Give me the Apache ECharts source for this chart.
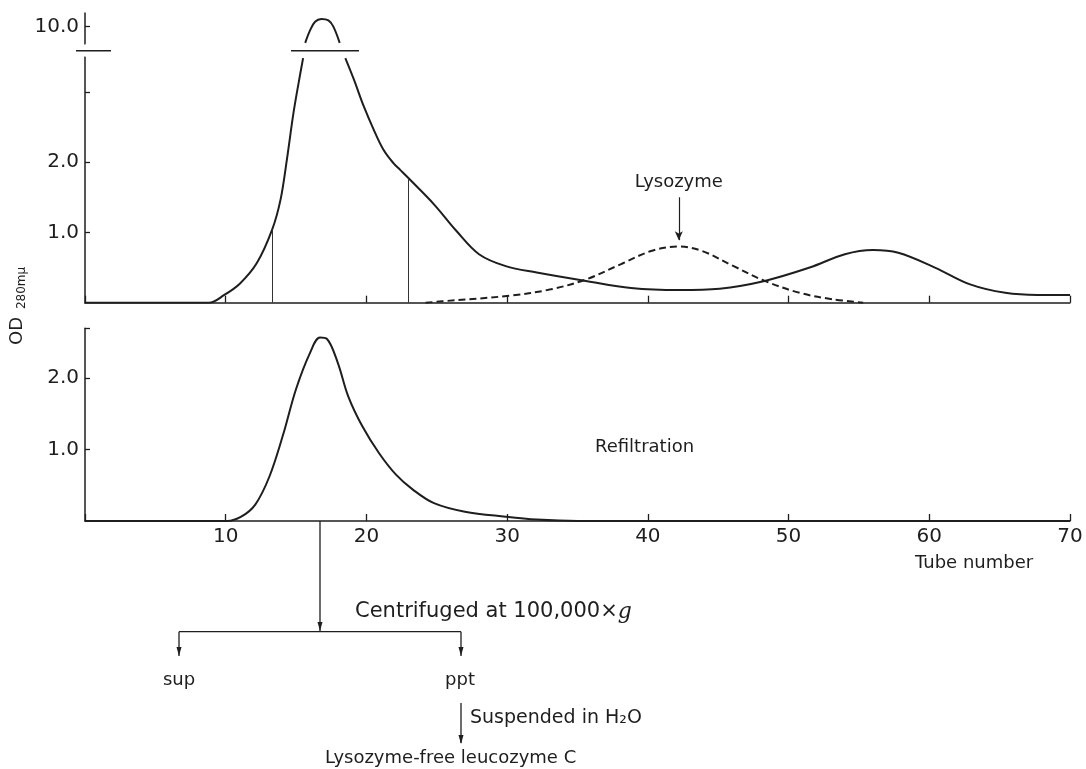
<!DOCTYPE html>
<html>
<head>
<meta charset="utf-8">
<script src="https://cdn.jsdelivr.net/npm/echarts@6/dist/echarts.min.js"></script>
<style>
  html, body { margin: 0; background: #fff; }
  #chart { width: 1086px; height: 769px; }
</style>
</head>
<body>
<div id="chart"></div>
<script>
// upper panel: first gel filtration, OD 280 per tube ('-' = axis break)
const elutionTubes = [0, 8.8, 9.9, 11.0, 12.2, 13.3, 13.9, 14.35, 14.8, 15.2, 15.5, 15.58, 15.65, 16.0, 16.35, 16.8, 17.3, 17.65, 18.1, 18.3, 18.5, 19.1, 19.8, 20.5, 21.2, 21.9, 22.4, 23.0, 24.8, 26.4, 28.0, 29.9, 32.1, 35.6, 38.8, 42.2, 45.1, 48.3, 51.5, 54.0, 56.0, 57.8, 60.4, 62.9, 65.4, 67.7, 70];
const elutionOD = [0, 0, 0.11, 0.27, 0.56, 1.04, 1.47, 2.04, 2.68, 3.15, 3.48, '-', 9.77, 9.95, 10.07, 10.11, 10.09, 10.0, 9.77, '-', 3.48, 3.18, 2.80, 2.47, 2.18, 1.99, 1.89, 1.77, 1.40, 1.02, 0.69, 0.52, 0.43, 0.31, 0.21, 0.18, 0.20, 0.31, 0.50, 0.69, 0.75, 0.71, 0.50, 0.26, 0.14, 0.11, 0.11];

// lysozyme activity (dashed)
const lysoTubes = [24.2, 25.4, 30.2, 33.1, 35.6, 38.1, 40.3, 42.2, 43.8, 46.1, 48.3, 50.8, 53.1, 55.3];
const lysoOD = [0, 0.02, 0.10, 0.19, 0.33, 0.55, 0.74, 0.80, 0.74, 0.52, 0.31, 0.14, 0.05, 0];

// lower panel: refiltration
const refilTubes = [0, 10.1, 11.1, 12.1, 13.1, 14.05, 15.0, 16.0, 16.7, 17.2, 17.96, 18.7, 19.7, 20.9, 22.1, 23.3, 24.8, 27.0, 29.9, 32.1, 35.0, 70];
const refilOD = [0, 0, 0.06, 0.23, 0.62, 1.19, 1.85, 2.36, 2.57, 2.55, 2.22, 1.75, 1.33, 0.95, 0.65, 0.44, 0.25, 0.13, 0.06, 0.02, 0, 0];

// pooled fraction limits and lysozyme marker
const cutTubes = [13.3, 23.0];
const cutOD = [1.04, 1.77];
const lysoMark = { tube: 42.2, from: 1.5, to: 0.89 };

const topTicks = [1, 2, 3, 10];
const topLabels = [1, 2, 10];
const bottomTicks = [1, 2, 2.7];
const bottomLabels = [1, 2];

const ink = '#1e1e1e';
const font = 'DejaVu Sans';

const zip = (xs, ys) => xs.map((x, i) => [x, ys[i]]);

function text(x, y, str, size, align, extra) {
  return Object.assign({
    type: 'text', x: x, y: y, silent: true, z: 300,
    style: {
      text: str, fill: ink, fontSize: size, fontFamily: font,
      align: align || 'left', verticalAlign: 'middle',
      textAlign: align || 'left', textVerticalAlign: 'middle'
    }
  }, extra || {});
}
function line(x1, y1, x2, y2, w) {
  return { type: 'line', silent: true, z: 300, shape: { x1, y1, x2, y2 }, style: { stroke: ink, lineWidth: w || 1.3 } };
}
function arrowDown(x, tip) {
  return { type: 'polygon', silent: true, z: 300, shape: { points: [[x - 2.5, tip - 9], [x + 2.5, tip - 9], [x, tip]] }, style: { fill: ink } };
}

const axisLine = { show: true, lineStyle: { color: ink, width: 1.5 } };
const tickStyle = { color: ink, width: 1.3 };

const chart = echarts.init(document.getElementById('chart'));
chart.setOption({
  animation: false,
  backgroundColor: '#fff',
  textStyle: { fontFamily: font, color: ink },
  grid: [
    { left: 85, right: 16, top: 12.6, bottom: 466.3 },
    { left: 85, right: 16, top: 328.3, bottom: 248 }
  ],
  xAxis: [
    {
      gridIndex: 0, type: 'value', min: 0, max: 70, interval: 10,
      axisLine: axisLine,
      axisTick: { inside: true, length: 7, lineStyle: tickStyle },
      axisLabel: { show: false },
      splitLine: { show: false }
    },
    {
      gridIndex: 1, type: 'value', min: 0, max: 70, interval: 10,
      axisLine: axisLine,
      axisTick: { inside: true, length: 7, lineStyle: tickStyle },
      axisLabel: {
        fontSize: 20, color: ink, margin: 6,
        formatter: v => (v === 0 ? '' : String(v))
      },
      splitLine: { show: false }
    }
  ],
  yAxis: [
    {
      gridIndex: 0, type: 'value', min: 0, max: 10.2,
      breaks: [{ start: 3.5, end: 9.75, gap: '4.3%' }],
      breakArea: {
        show: true, zigzagAmplitude: 0, zigzagZ: 100,
        itemStyle: { color: '#fff', borderWidth: 0, opacity: 1 }
      },
      axisLine: axisLine,
      axisTick: { show: true, inside: true, length: 5, customValues: topTicks, lineStyle: tickStyle },
      axisLabel: { customValues: topLabels, fontSize: 20, color: ink, margin: 6, formatter: v => v.toFixed(1) },
      splitLine: { show: false }
    },
    {
      gridIndex: 1, type: 'value', min: 0, max: 2.7,
      axisLine: axisLine,
      axisTick: { show: true, inside: true, length: 5, customValues: bottomTicks, lineStyle: tickStyle },
      axisLabel: { customValues: bottomLabels, fontSize: 20, color: ink, margin: 6, formatter: v => v.toFixed(1) },
      splitLine: { show: false }
    }
  ],
  series: [
    {
      name: 'OD', type: 'line', xAxisIndex: 0, yAxisIndex: 0,
      data: zip(elutionTubes, elutionOD), smooth: 0.35,
      showSymbol: false, silent: true, connectNulls: false,
      lineStyle: { color: ink, width: 2 },
      markLine: {
        silent: true, symbol: 'none', animation: false,
        label: { show: false },
        lineStyle: { color: '#333', width: 1, type: 'solid' },
        data: cutTubes.map((t, i) => [{ coord: [t, 0] }, { coord: [t, cutOD[i]] }])
      }
    },
    {
      name: 'Lysozyme', type: 'line', xAxisIndex: 0, yAxisIndex: 0,
      data: zip(lysoTubes, lysoOD), smooth: 0.35,
      showSymbol: false, silent: true,
      lineStyle: { color: ink, width: 2, type: [7, 4] },
      markLine: {
        silent: true, animation: false,
        symbol: ['none', 'arrow'], symbolSize: [6, 9],
        lineStyle: { color: ink, width: 1.2, type: 'solid' },
        label: { show: true, position: 'start', distance: 6, formatter: 'Lysozyme', fontSize: 18, color: ink, fontFamily: font },
        data: [[{ coord: [lysoMark.tube, lysoMark.from] }, { coord: [lysoMark.tube, lysoMark.to] }]]
      }
    },
    {
      name: 'Refiltration', type: 'line', xAxisIndex: 1, yAxisIndex: 1,
      data: zip(refilTubes, refilOD), smooth: 0.35,
      showSymbol: false, silent: true,
      lineStyle: { color: ink, width: 2 }
    }
  ],
  graphic: [
    // break marks on the upper panel
    line(76, 50.7, 111, 50.7, 1.5),
    line(291, 50.7, 359, 50.7, 1.5),
    // y axis title
    text(17.5, 331, 'OD', 18, 'center', { rotation: Math.PI / 2 }),
    text(21.5, 288, '280mμ', 12, 'center', { rotation: Math.PI / 2 }),
    text(595, 447, 'Refiltration', 18),
    text(915, 563, 'Tube number', 18),
    // work-up scheme
    line(320, 521, 320, 631.7),
    arrowDown(320, 631),
    line(179, 631.7, 461, 631.7),
    line(179, 631.7, 179, 656),
    arrowDown(179, 656),
    line(461, 631.7, 461, 656),
    arrowDown(461, 656),
    {
      type: 'text', x: 355, y: 612, silent: true, z: 300,
      style: {
        text: '{a|Centrifuged at 100,000×}{g|g}',
        align: 'left', verticalAlign: 'middle', textAlign: 'left', textVerticalAlign: 'middle',
        rich: {
          a: { fontSize: 21, fontFamily: font, fill: ink, color: ink },
          g: { fontSize: 22, fontFamily: 'DejaVu Serif', fontStyle: 'italic', fill: ink, color: ink }
        }
      }
    },
    text(179, 680, 'sup', 18, 'center'),
    text(460, 680, 'ppt', 18, 'center'),
    line(461, 703, 461, 743),
    arrowDown(461, 744),
    text(470, 718, 'Suspended in H₂O', 19),
    text(325, 758, 'Lysozyme-free leucozyme C', 18)
  ]
});
</script>
</body>
</html>
